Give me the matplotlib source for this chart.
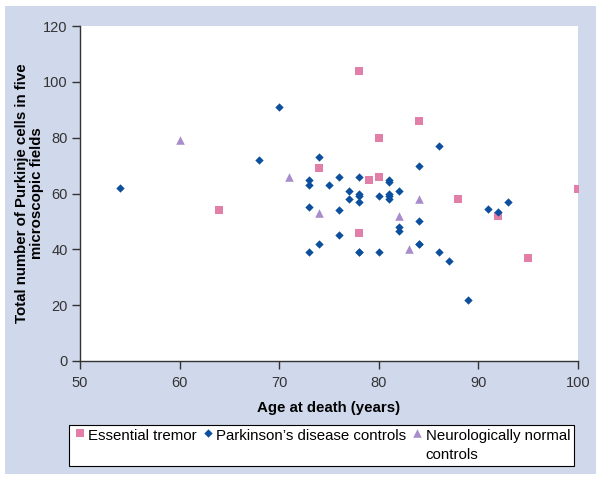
import matplotlib.pyplot as plt
from matplotlib.patches import Rectangle

plt.rcParams['font.family'] = ['Liberation Sans', 'DejaVu Sans']

# Essential tremor cases
et_age = [64, 74, 78, 78, 79, 80, 80, 84, 88, 92, 95, 100]
et_cells = [54, 69, 104, 46, 65, 66, 80, 86, 58, 52, 37, 61.5]

# Parkinson's disease controls
pd_age = [54, 68, 70, 73, 73, 73, 73, 74, 74, 75, 76, 76, 76, 77, 77, 78, 78,
          78, 78, 78, 78, 80, 80, 81, 81, 81, 81, 81, 82, 82, 82, 84, 84, 84,
          84, 86, 86, 87, 89, 91, 92, 93]
pd_cells = [62, 72, 91, 65, 63, 55, 39, 73, 42, 63, 66, 54, 45, 61, 58, 66, 60,
            59, 57, 39, 39, 59, 39, 65, 64, 60, 59, 58, 61, 48, 46.5, 70, 50, 42,
            42, 77, 39, 36, 22, 54.5, 53.5, 57]

# Neurologically normal controls
nn_age = [60, 71, 74, 82, 83, 84]
nn_cells = [79, 66, 53, 52, 40, 58]

pink = '#e27fa8'
blue = '#0b4f9e'
lilac = '#a98ccb'
panel = '#d0d8eb'

fig = plt.figure(figsize=(6.02, 4.84), dpi=100)
fig.patches.append(Rectangle((5 / 602, 10 / 484), 591 / 602, 468 / 484,
                             transform=fig.transFigure, facecolor=panel,
                             edgecolor='none', zorder=-10))

ax = fig.add_axes([80 / 602, 1 - 361 / 484, 498 / 602, 335 / 484])
ax.set_facecolor('white')

ax.scatter(et_age, et_cells, marker='s', s=36, color=pink, linewidths=0,
           label='Essential tremor\n', zorder=3)
ax.scatter(pd_age, pd_cells, marker='D', s=18, color=blue, linewidths=0,
           label="Parkinson’s disease controls\n", zorder=3)
ax.scatter(nn_age, nn_cells, marker='^', s=38, color=lilac, linewidths=0,
           label='Neurologically normal\ncontrols', zorder=3)

ax.set_xlim(50, 100)
ax.set_ylim(0, 120)
ax.set_xticks(range(50, 101, 10))
ax.set_yticks(range(0, 121, 20))

for side in ['top', 'right']:
    ax.spines[side].set_visible(False)
for side in ['left', 'bottom']:
    ax.spines[side].set_color('#333333')
    ax.spines[side].set_linewidth(1)
ax.tick_params(direction='out', length=6, width=1, color='#333333',
               labelsize=10.5, labelcolor='#333333', pad=3)
ax.tick_params(axis='x', pad=5)

ax.set_xlabel('Age at death (years)', fontsize=10.8, fontweight='bold',
              labelpad=7.5)
ax.set_ylabel('Total number of Purkinje cells in five\nmicroscopic fields',
              fontsize=10.8, fontweight='bold', labelpad=-0.6, linespacing=1.1)

leg = fig.legend(loc='upper left', bbox_to_anchor=(69 / 602, 1 - 425 / 484),
                 ncol=3, fontsize=10.8, frameon=True, fancybox=False,
                 edgecolor='black', framealpha=1, handletextpad=0.1,
                 columnspacing=0.3, handlelength=0.9, borderpad=0.25,
                 markerscale=1.0, borderaxespad=0, scatteryoffsets=[1.75],
                 labelspacing=0.2)
leg.get_frame().set_linewidth(0.8)
for t in leg.get_texts():
    t.set_linespacing(1.5)

plt.savefig('out.png', dpi=100)
